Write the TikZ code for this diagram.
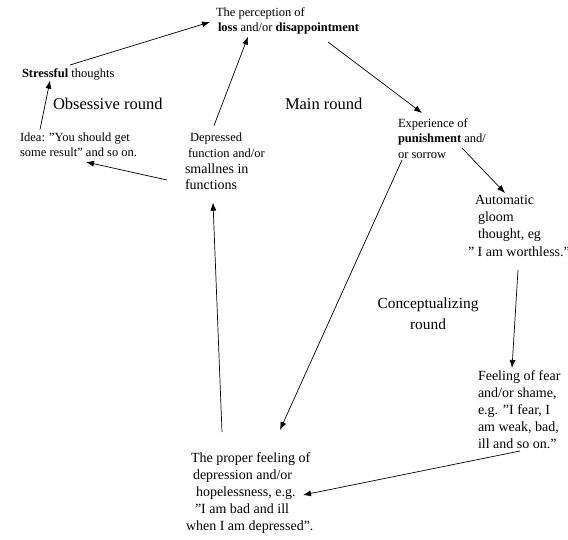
\documentclass[tikz,border=0pt]{standalone}
\usepackage{fontspec}
\setmainfont{Liberation Serif}
\usetikzlibrary{arrows.meta,calc}
\newcommand\fsS{\fontsize{12.5}{15.5}\selectfont}
\newcommand\fsM{\fontsize{14}{16.8}\selectfont}
\newcommand\fsL{\fontsize{16.5}{21}\selectfont}
\newcommand\fsC{\fontsize{15.4}{21}\selectfont}
\tikzset{
  txt/.style={inner sep=0pt, outer sep=0pt, anchor=north west, align=left},
  small/.style={txt, font=\fsS},
  medium/.style={txt, font=\fsM},
  big/.style={txt, font=\fsL},
  conn/.style={line width=0.7pt, -{Latex[length=8pt,width=6pt]}},
}
\begin{document}
\begin{tikzpicture}[x=1pt,y=-1pt]
\useasboundingbox[fill=white] (0,0) rectangle (568,539);

\node[small] (perc) at (216,7.6) {The perception of\\\hspace*{2pt}\textbf{loss} and/or \textbf{disappointment}};
\node[small] (stress) at (22,68.6) {\textbf{Stressful} thoughts};
\node[big] (obs) at (53,98) {Obsessive round};
\node[big] (mainr) at (285,98) {Main round};
\node[small] (idea) at (20,132.6) {Idea: ”You should get\\some result” and so on.};
\node[small] (dep) at (185,132.6) {\hspace*{5pt}Depressed\\[0.5pt]\hspace*{3pt}function and/or\\[1pt]{\fsM smallnes in}\\{\fsM functions}};
\node[small] (exp) at (398,118.6) {Experience of\\\textbf{punishment} and/\\or sorrow};
\node[medium] (auto) at (468,195) {\hspace*{7pt}Automatic\\[0.5pt]\hspace*{10pt}gloom\\[0.5pt]\hspace*{10pt}thought, eg\\[0.5pt]” I am worthless.”};
\node[txt, font=\fsC, anchor=north, align=center] (concept) at (428,297.5) {Conceptualizing\\round};
\node[medium] (fear) at (478,371) {Feeling of fear\\and/or shame,\\e.g. ”I fear, I\\am weak, bad,\\ill and so on.”};
\node[medium] (proper) at (186,453) {\hspace*{5pt}The proper feeling of\\\hspace*{7pt}depression and/or\\\hspace*{10pt}hopelessness, e.g.\\\hspace*{9pt}”I am bad and ill\\when I am depressed”.};

% connectors
\draw[conn] ($(idea.north west)+(20,-3)$) -- ($(stress.north west)+(28,12)$);
\draw[conn] ($(stress.north west)+(48,-3.6)$) -- ($(perc.north west)+(-6,14.4)$);
\draw[conn] ($(dep.north west)+(-18,47.4)$) -- ($(idea.north west)+(66,29.4)$);
\draw[conn] ($(dep.north west)+(29,-7)$) -- ($(perc.north west)+(32,29)$);
\draw[conn] ($(perc.north west)+(112,34.4)$) -- ($(exp.north west)+(24,-5.6)$);
\draw[conn] ($(exp.north west)+(64,29.4)$) -- ($(auto.north west)+(37,-2)$);
\draw[conn] ($(auto.north west)+(50,75)$) -- ($(fear.north west)+(34,-3)$);
\draw[conn] ($(fear.north west)+(42,80)$) -- ($(proper.north west)+(117,42)$);
\draw[conn] ($(exp.north west)+(4,41.4)$) -- ($(proper.north west)+(94,-23)$);
\draw[conn] ($(proper.north west)+(36,-21)$) -- ($(dep.north west)+(28,70)$);
\end{tikzpicture}
\end{document}
